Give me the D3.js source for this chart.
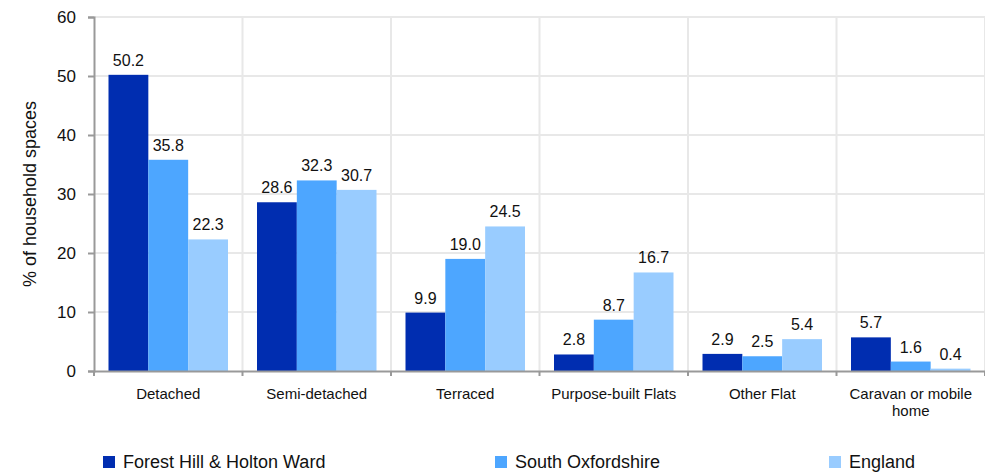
<!DOCTYPE html>
<html>
<head>
<meta charset="utf-8">
<script src="https://cdn.jsdelivr.net/npm/d3@7"></script>
<style>
  body { margin: 0; background: #fff; }
  text { font-family: "Liberation Sans", Arial, sans-serif; fill: #111; }
</style>
</head>
<body>
<div id="chart"></div>
<script>
var categories = ["Detached", "Semi-detached", "Terraced", "Purpose-built Flats", "Other Flat", "Caravan or mobile home"];
var seriesNames = ["Forest Hill & Holton Ward", "South Oxfordshire", "England"];
var forestHill = [50.2, 28.6, 9.9, 2.8, 2.9, 5.7];
var southOxon = [35.8, 32.3, 19.0, 8.7, 2.5, 1.6];
var england = [22.3, 30.7, 24.5, 16.7, 5.4, 0.4];
var yTicks = [0, 10, 20, 30, 40, 50, 60];
var colors = ["#002db0", "#4da6ff", "#99ccff"];

var width = 985, height = 472;
var margin = { top: 17, right: 0, bottom: 101, left: 94 };

var svg = d3.select("#chart")
  .append("svg")
  .attr("width", width)
  .attr("height", height);

var x = d3.scaleBand()
  .domain(categories)
  .range([margin.left, width - margin.right])
  .padding(0);

var xInner = d3.scaleBand()
  .domain(seriesNames)
  .range([14.5, x.bandwidth() - 14.5])
  .padding(0);

var y = d3.scaleLinear()
  .domain([0, 60])
  .range([height - margin.bottom, margin.top]);

// gridlines
var grid = svg.append("g");
grid.selectAll("line.h")
  .data(yTicks.slice(1))
  .enter().append("line")
  .attr("x1", margin.left).attr("x2", width)
  .attr("y1", function (d) { return y(d); })
  .attr("y2", function (d) { return y(d); })
  .style("stroke", "#e8e8e8").style("stroke-width", 2);
grid.selectAll("line.v")
  .data(categories.slice(1).concat(["end"]))
  .enter().append("line")
  .attr("x1", function (d, i) { return x(categories[i]) + x.bandwidth(); })
  .attr("x2", function (d, i) { return x(categories[i]) + x.bandwidth(); })
  .attr("y1", y(60)).attr("y2", y(0))
  .style("stroke", "#e8e8e8").style("stroke-width", 2);

var data = categories.map(function (c, i) {
  return { cat: c, values: [forestHill[i], southOxon[i], england[i]] };
});

var groups = svg.append("g")
  .selectAll("g")
  .data(data)
  .enter().append("g")
  .attr("transform", function (d) { return "translate(" + x(d.cat) + ",0)"; });

groups.selectAll("rect")
  .data(function (d) { return d.values.map(function (v, j) { return { s: seriesNames[j], v: v, j: j }; }); })
  .enter().append("rect")
  .attr("x", function (d) { return xInner(d.s); })
  .attr("width", xInner.bandwidth())
  .attr("y", function (d) { return y(d.v); })
  .attr("height", function (d) { return y(0) - y(d.v); })
  .style("fill", function (d) { return colors[d.j]; });

groups.selectAll("text.val")
  .data(function (d) { return d.values.map(function (v, j) { return { s: seriesNames[j], v: v }; }); })
  .enter().append("text")
  .attr("class", "val")
  .attr("x", function (d) { return xInner(d.s) + xInner.bandwidth() / 2; })
  .attr("y", function (d) { return y(d.v) - 9; })
  .attr("text-anchor", "middle")
  .style("font-size", "16px")
  .text(function (d) { return d.v.toFixed(1); });

// y axis
var yAxis = svg.append("g")
  .attr("transform", "translate(" + margin.left + ",0)")
  .call(d3.axisLeft(y).tickValues(yTicks).tickSize(6).tickPadding(12).tickFormat(d3.format("d")));
yAxis.select(".domain").style("stroke", "#999").style("stroke-width", 2);
yAxis.selectAll(".tick line").style("stroke", "#999").style("stroke-width", 2);
yAxis.selectAll(".tick text").style("font-size", "17px").style("fill", "#111");

// x axis
var xAxis = svg.append("g")
  .attr("transform", "translate(0," + y(0) + ")")
  .call(d3.axisBottom(x).tickSize(0).tickPadding(17));
xAxis.select(".domain").style("stroke", "#999").style("stroke-width", 2);
xAxis.selectAll(".tick text").style("font-size", "15px").style("fill", "#111");
xAxis.selectAll(".tick text").each(function (d) {
  if (d === "Caravan or mobile home") {
    var t = d3.select(this);
    t.text(null);
    t.append("tspan").attr("x", 0).attr("dy", "0.71em").text("Caravan or mobile");
    t.append("tspan").attr("x", 0).attr("dy", "1.15em").text("home");
  }
});
xAxis.selectAll("line.sep")
  .data(d3.range(categories.length + 1))
  .enter().append("line")
  .attr("x1", function (i) { return margin.left + i * x.bandwidth(); })
  .attr("x2", function (i) { return margin.left + i * x.bandwidth(); })
  .attr("y1", 0).attr("y2", 5)
  .style("stroke", "#999").style("stroke-width", 2);

// y axis title
svg.append("text")
  .attr("transform", "translate(36," + ((y(0) + y(60)) / 2) + ") rotate(-90)")
  .attr("text-anchor", "middle")
  .style("font-size", "18px")
  .text("% of household spaces");

// legend
var legendX = [103, 495, 829];
var legend = svg.append("g")
  .selectAll("g")
  .data(seriesNames)
  .enter().append("g")
  .attr("transform", function (d, i) { return "translate(" + legendX[i] + ",456)"; });
legend.append("rect")
  .attr("width", 12).attr("height", 12)
  .style("fill", function (d, i) { return colors[i]; });
legend.append("text")
  .attr("x", 20).attr("y", 12)
  .style("font-size", "18px")
  .text(function (d) { return d; });
</script>
</body>
</html>
